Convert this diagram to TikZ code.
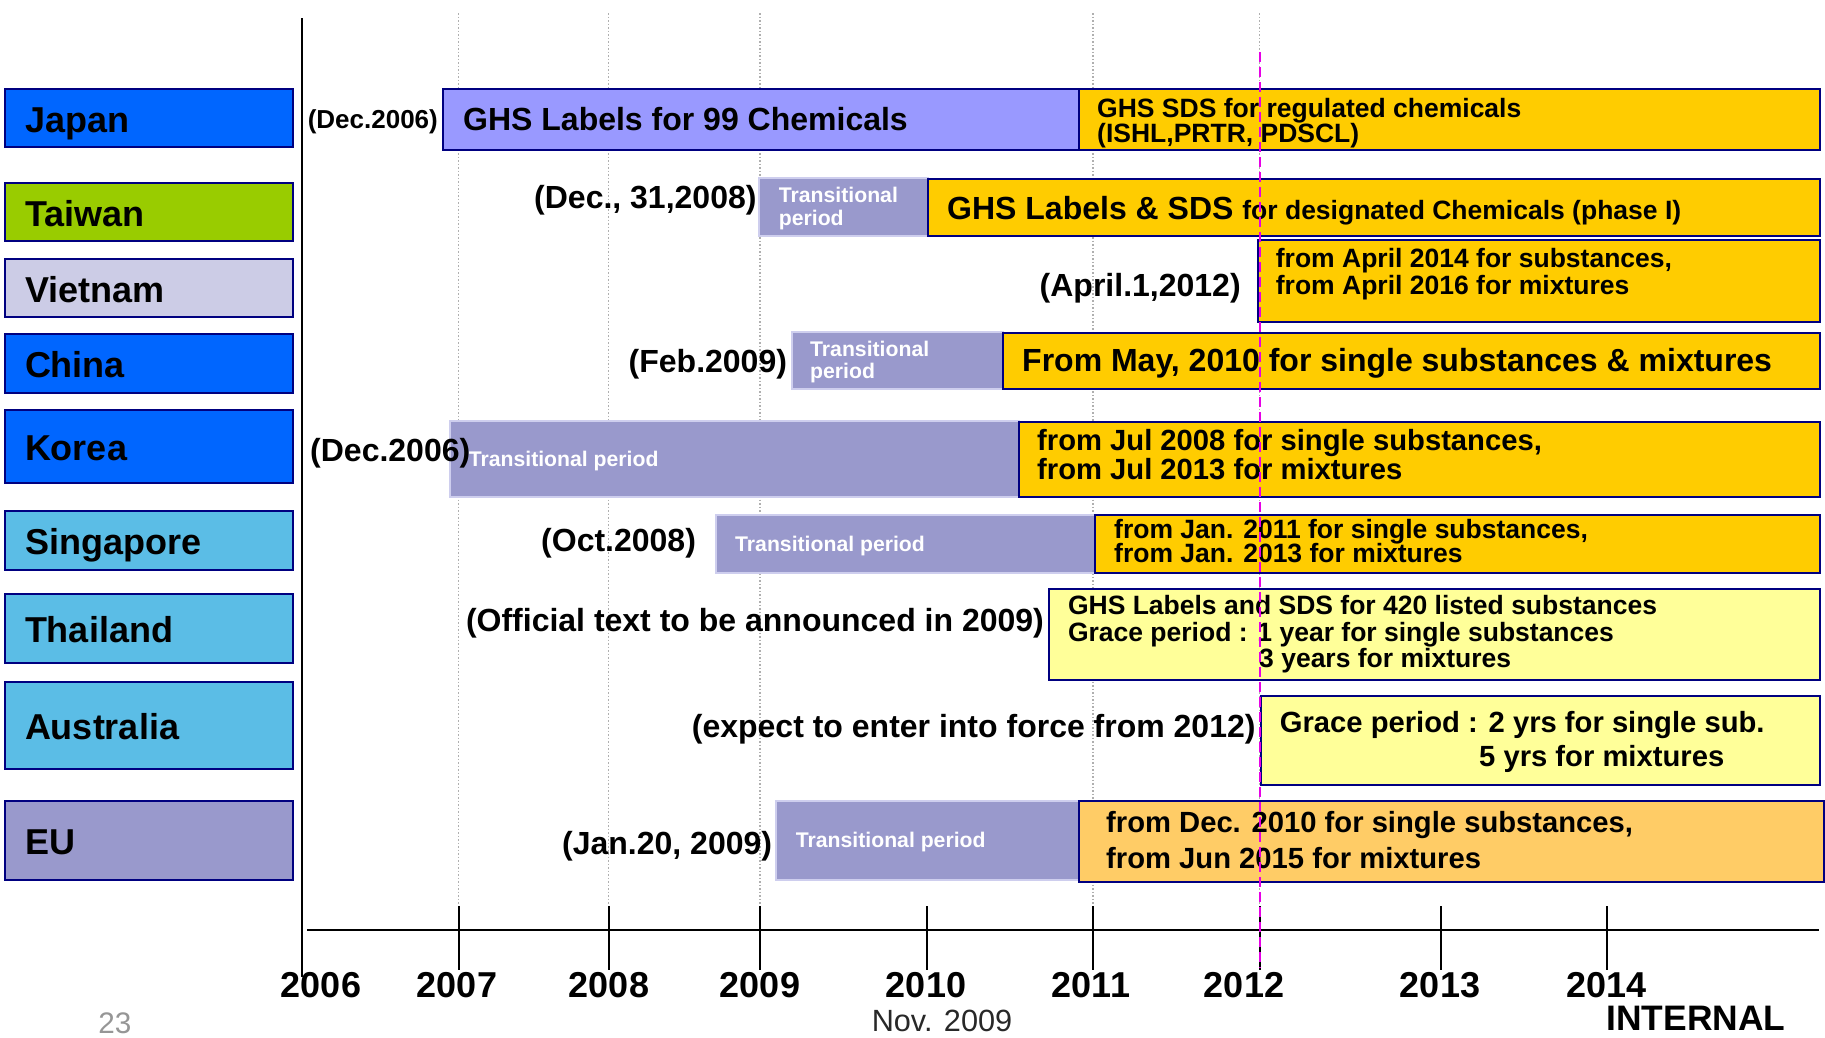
\documentclass[tikz,border=0pt]{standalone}
\usepackage{fontspec}
\setmainfont{Liberation Sans}
\definecolor{navy}{RGB}{0,0,128}
\definecolor{blueC}{RGB}{0,102,255}
\definecolor{greenC}{RGB}{153,204,0}
\definecolor{lavC}{RGB}{204,204,230}
\definecolor{skyC}{RGB}{91,189,230}
\definecolor{euC}{RGB}{153,153,204}
\definecolor{periC}{RGB}{153,153,255}
\definecolor{transC}{RGB}{153,153,204}
\definecolor{transB}{RGB}{206,206,238}
\definecolor{yelC}{RGB}{255,204,0}
\definecolor{lyelC}{RGB}{255,255,153}
\definecolor{orC}{RGB}{255,204,102}
\definecolor{magC}{RGB}{230,0,230}
\definecolor{gridC}{RGB}{175,175,175}
\begin{document}
\begin{tikzpicture}[x=1pt,y=-1pt,
  cty/.style={draw=navy, line width=2pt, anchor=north west, minimum width=288pt,
    text width=248pt, inner xsep=20pt, inner ysep=0pt, align=left,
    text height=28.3pt, text depth=0pt, font=\fontsize{36}{36}\selectfont\bfseries},
  bar/.style={draw=navy, line width=2pt, anchor=north west, inner sep=0pt},
  tbar/.style={draw=transB, line width=2pt, fill=transC, anchor=north west, inner sep=0pt},
  lbBig/.style={anchor=base west, inner sep=0pt, font=\fontsize{32}{34}\selectfont\bfseries},
  lbJp/.style={anchor=base west, inner sep=0pt, font=\fontsize{26}{28}\selectfont\bfseries},
  lbSm/.style={anchor=base west, inner sep=0pt, font=\fontsize{26.5}{28}\selectfont\bfseries},
  lbMid/.style={anchor=base west, inner sep=0pt, font=\fontsize{29.2}{30}\selectfont\bfseries},
  lbTr/.style={anchor=base west, inner sep=0pt, text=white, font=\fontsize{21.2}{22}\selectfont\bfseries},
  yr/.style={anchor=base, inner sep=0pt, font=\fontsize{36}{36}\selectfont\bfseries},
  grid/.style={draw=gridC, line width=1.5pt, dash pattern=on 1.5pt off 2pt},
  tick/.style={draw=black, line width=2pt}
]
\useasboundingbox (0,0) rectangle (1825,1037);

% dotted year gridlines (behind bars)
\foreach \gx in {458.6,608.7,760,1093,1259.5}
  \draw[grid] (\gx,13) -- (\gx,906);

% axes
\draw[line width=2.4pt] (302,18) -- (302,977);
\draw[line width=2.4pt] (307,930) -- (1819,930);
\foreach \tx in {458.6,608.7,760,926.5,1093,1259.5,1440.7,1607}
  \draw[tick] (\tx,906) -- (\tx,970);

% country boxes
\node[cty, fill=blueC,  minimum height=58pt] (japan) at (4,88) {Japan};
\node[cty, fill=greenC, minimum height=58pt] (taiwan) at (4,182) {Taiwan};
\node[cty, fill=lavC,   minimum height=58pt] (vietnam) at (4,258) {Vietnam};
\node[cty, fill=blueC,  minimum height=59pt] (china) at (4,333) {China};
\node[cty, fill=blueC,  minimum height=73pt] (korea) at (4,409) {Korea};
\node[cty, fill=skyC,   minimum height=59pt] (singapore) at (4,510) {Singapore};
\node[cty, fill=skyC,   minimum height=69pt] (thailand) at (4,593) {Thailand};
\node[cty, fill=skyC,   minimum height=87pt] (australia) at (4,681) {Australia};
\node[cty, fill=euC,    minimum height=79pt] (eu) at (4,800) {EU};

% bars
\node[bar, fill=periC, minimum width=636pt, minimum height=61pt] (jpL) at (442,88) {};
\node[bar, fill=yelC,  minimum width=741pt, minimum height=61pt] (jpS) at (1078,88) {};
\node[tbar, minimum width=169pt, minimum height=58pt] (twT) at (758,177) {};
\node[bar, fill=yelC,  minimum width=892pt, minimum height=57pt] (twY) at (927,178) {};
\node[bar, fill=yelC,  minimum width=562pt, minimum height=82pt] (vnY) at (1257,239) {};
\node[tbar, minimum width=211pt, minimum height=57pt] (cnT) at (791,331) {};
\node[bar, fill=yelC,  minimum width=817pt, minimum height=56pt] (cnY) at (1002,332) {};
\node[tbar, minimum width=569pt, minimum height=76pt] (krT) at (449,420) {};
\node[bar, fill=yelC,  minimum width=801pt, minimum height=75pt] (krY) at (1018,421) {};
\node[tbar, minimum width=379pt, minimum height=58pt] (sgT) at (715,514) {};
\node[bar, fill=yelC,  minimum width=725pt, minimum height=58pt] (sgY) at (1094,514) {};
\node[bar, fill=lyelC, minimum width=771pt, minimum height=91pt] (thY) at (1048,588) {};
\node[bar, fill=lyelC, minimum width=559pt, minimum height=89.5pt] (auY) at (1260,694.5) {};
\node[tbar, minimum width=303pt, minimum height=79pt] (euT) at (775,800) {};
\node[bar, fill=orC,   minimum width=745pt, minimum height=81.5pt] (euY) at (1078,799.5) {};

% Japan
\node[lbJp] (jpD) at (307.6,128.8) {(Dec.2006)};
\node[lbBig] (jpT) at (463,130) {GHS Labels for 99 Chemicals};
\node[lbSm] (jpS1) at (1097,117) {GHS SDS for regulated chemicals};
\node[lbSm] (jpS2) at (1097,142) {(ISHL,PRTR, PDSCL)};
% Taiwan
\node[lbBig] (twD) at (534,208.5) {(Dec., 31,2008)};
\node[lbTr] (twT1) at (778.7,202) {Transitional};
\node[lbTr] (twT2) at (778.7,225.5) {period};
\node[lbBig] (twY1) at (947,219) {GHS Labels \& SDS {\fontsize{26.5}{28}\selectfont for designated Chemicals (phase I)}};
% Vietnam
\node[lbBig] (vnD) at (1039.5,296) {(April.1,2012)};
\node[lbSm] (vnY1) at (1275.7,267) {from April 2014 for substances,};
\node[lbSm] (vnY2) at (1275.7,294.5) {from April 2016 for mixtures};
% China
\node[lbBig] (cnD) at (628.5,372.5) {(Feb.2009)};
\node[lbTr] (cnT1) at (810,356) {Transitional};
\node[lbTr] (cnT2) at (810,378) {period};
\node[lbBig] (cnY1) at (1022,371.5) {From May, 2010 for single substances \& mixtures};
% Korea
\node[lbBig] (krD) at (310,461.5) {(Dec.2006)};
\node[lbTr] (krT1) at (468.6,466.5) {Transitional period};
\node[lbMid] (krY1) at (1037,450.7) {from Jul 2008 for single substances,};
\node[lbMid] (krY2) at (1037,479) {from Jul 2013 for mixtures};
% Singapore
\node[lbBig] (sgD) at (541,551.5) {(Oct.2008)};
\node[lbTr] (sgT1) at (735,551.5) {Transitional period};
\node[lbSm] (sgY1) at (1114,538.5) {from Jan. 2011 for single substances,};
\node[lbSm] (sgY2) at (1114,562.5) {from Jan. 2013 for mixtures};
% Thailand
\node[lbBig] (thD) at (465.8,631.5) {(Official text to be announced in 2009)};
\node[lbSm] (thY1) at (1067.8,614.5) {GHS Labels and SDS for 420 listed substances};
\node[lbSm] (thY2) at (1067.8,641) {Grace period : 1 year for single substances};
\node[lbSm] (thY3) at (1259,667.5) {3 years for mixtures};
% Australia
\node[lbBig] (auD) at (691.7,737) {(expect to enter into force from 2012)};
\node[lbMid] (auY1) at (1279.7,732.4) {Grace period : 2 yrs for single sub.};
\node[lbMid] (auY2) at (1479,766.8) {5 yrs for mixtures};
% EU
\node[lbBig] (euD) at (562,854.6) {(Jan.20, 2009)};
\node[lbTr] (euT1) at (795.7,847.7) {Transitional period};
\node[lbMid] (euY1) at (1106,832.2) {from Dec. 2010 for single substances,};
\node[lbMid] (euY2) at (1106,868.3) {from Jun 2015 for mixtures};

% current-date marker
\draw[draw=magC, line width=2pt, dash pattern=on 10pt off 5pt] (1259.5,52) -- (1259.5,968);

% year labels
\node[yr] (y2006) at (321,997) {2006};
\node[yr] (y2007) at (457,997) {2007};
\node[yr] (y2008) at (609,997) {2008};
\node[yr] (y2009) at (760,997) {2009};
\node[yr] (y2010) at (926,997) {2010};
\node[yr] (y2011) at (1091,997) {2011};
\node[yr] (y2012) at (1244,997) {2012};
\node[yr] (y2013) at (1440,997) {2013};
\node[yr] (y2014) at (1606.5,997) {2014};

\node[anchor=base, inner sep=0pt, font=\fontsize{30.7}{31}\selectfont, text={rgb,255:red,40;green,40;blue,40}] (nov) at (942,1031) {Nov. 2009};
\node[anchor=base, inner sep=0pt, font=\fontsize{35.4}{36}\selectfont\bfseries] (internal) at (1696,1030) {INTERNAL};
\node[anchor=base, inner sep=0pt, font=\fontsize{29.7}{30}\selectfont, text={rgb,255:red,150;green,150;blue,150}] (pg) at (115,1033) {23};
\end{tikzpicture}
\end{document}
